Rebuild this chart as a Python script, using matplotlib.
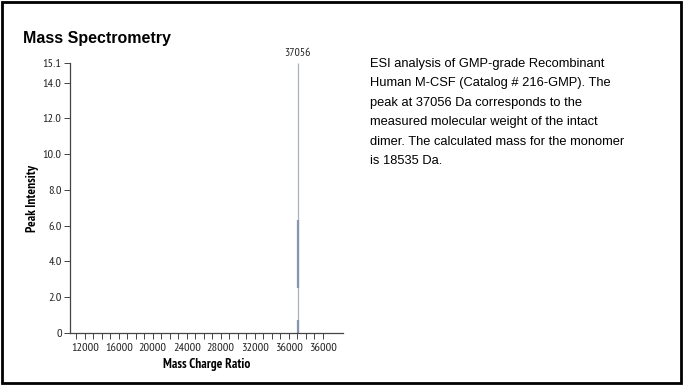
#Mass spectrometry panel: single ESI peak with a description text to the right.
import numpy as np
import matplotlib
matplotlib.use("Agg")
import matplotlib.pyplot as plt
from matplotlib.patches import Rectangle

#data
peak_mass = 37056
peak_height = 15.1
#darker overlapping segments drawn on the same stick (mass, low, high)
seg_mass = [37056, 37090]
seg_low = [2.5, 0.0]
seg_high = [6.3, 0.7]

yticks = [0, 2, 4, 6, 8, 10, 12, 14, 15.1]
ytick_labels = ["0", "2.0", "4.0", "6.0", "8.0", "10.0", "12.0", "14.0", "15.1"]
xticks = [12000, 16000, 20000, 24000, 28000, 32000, 36000, 40000]
xtick_labels = ["12000", "16000", "20000", "24000", "28000", "32000", "36000", "36000"]

description = ("ESI analysis of GMP-grade Recombinant\n"
               "Human M-CSF (Catalog # 216-GMP). The\n"
               "peak at 37056 Da corresponds to the\n"
               "measured molecular weight of the intact\n"
               "dimer. The calculated mass for the monomer\n"
               "is 18535 Da.")

narrow = ["PT Sans Narrow", "DejaVu Sans"]
arial = ["Liberation Sans", "DejaVu Sans"]

fig = plt.figure(figsize=(6.83, 3.85), dpi=100)
ax = fig.add_axes([70/683, 1 - 333/385, (343 - 70)/683, (333 - 63)/385])

#main stick
ax.vlines(peak_mass, 0, peak_height, color="#aab3c6", linewidth=0.9)
ax.vlines(seg_mass, seg_low, seg_high, color="#8893b0", linewidth=1.6)
ax.text(peak_mass, peak_height + 0.3, str(peak_mass), ha="center", va="bottom",
        fontsize=8.5, family=narrow, color="#222222")

ax.set_xlim(10250, 42400)
ax.set_ylim(0, 15.1)

ax.set_xticks(xticks)
ax.set_xticklabels(xtick_labels, family=narrow, fontsize=8.8, color="#222222")
ax.set_xticks(np.arange(11000, 40001, 1000), minor=True)
ax.set_yticks(yticks)
ax.set_yticklabels(ytick_labels, family=narrow, fontsize=8.8, color="#222222")

ax.tick_params(axis="both", which="both", direction="out", length=4, width=0.7, colors="#444444",
               labelcolor="#222222")
ax.tick_params(axis="x", pad=3)
ax.tick_params(axis="y", pad=2)

for s in ["top", "right"]:
    ax.spines[s].set_visible(False)
for s in ["left", "bottom"]:
    ax.spines[s].set_color("#444444")
    ax.spines[s].set_linewidth(0.9)

ax.set_xlabel("Mass Charge Ratio", family=narrow, fontsize=9.5, fontweight="bold", labelpad=4)
ax.set_ylabel("Peak Intensity", family=narrow, fontsize=9.5, fontweight="bold", labelpad=3)

#title and description
fig.text(23/683, 1 - 38/385, "Mass Spectrometry", family=arial, fontsize=11.5,
         fontweight="bold", va="center", ha="left")
fig.text(370/683, 1 - 58/385, description, family=arial, fontsize=9.3,
         va="top", ha="left", linespacing=1.82)

#outer frame
fig.patches.append(Rectangle((0.003, 0.004), 0.994, 0.992, transform=fig.transFigure,
                             fill=False, edgecolor="black", linewidth=2))

fig.savefig("out.png", dpi=100)
